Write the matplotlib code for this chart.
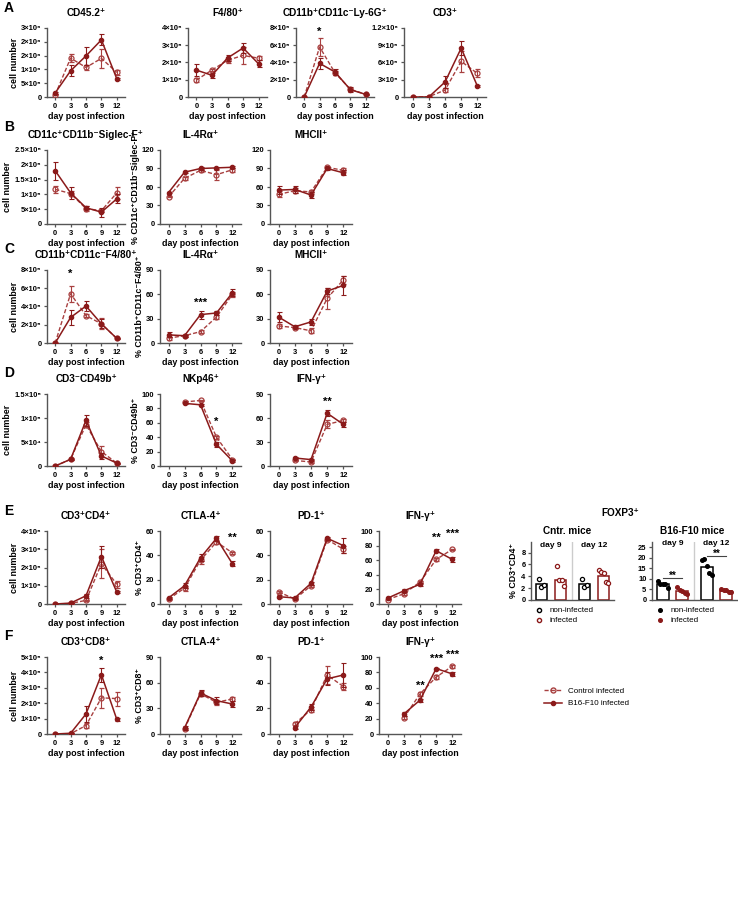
import matplotlib
matplotlib.use('Agg')
import matplotlib.pyplot as plt
from matplotlib.lines import Line2D

plt.rcParams['font.family'] = ['Liberation Sans', 'DejaVu Sans']

# ---------------- data ----------------
DAYS = [0, 3, 6, 9, 12]
DAYS_LATE = [3, 6, 9, 12]
DAY_TICKS = [0, 3, 6, 9, 12]

# Row A
A1_b16 = [0.15e6, 0.95e6, 1.49e6, 2.07e6, 0.66e6]; A1_b16_e = [0.03e6, 0.2e6, 0.33e6, 0.2e6, 0.04e6]
A1_ctl = [0.08e6, 1.41e6, 1.07e6, 1.40e6, 0.89e6]; A1_ctl_e = [0.02e6, 0.15e6, 0.08e6, 0.35e6, 0.1e6]
A2_b16 = [1.56e5, 1.26e5, 2.26e5, 2.84e5, 1.92e5]; A2_b16_e = [0.33e5, 0.15e5, 0.2e5, 0.3e5, 0.2e5]
A2_ctl = [0.98e5, 1.56e5, 2.13e5, 2.41e5, 2.25e5]; A2_ctl_e = [0.1e5, 0.05e5, 0.15e5, 0.5e5, 0.12e5]
A3_b16 = [0, 3.9e5, 2.9e5, 0.85e5, 0.3e5]; A3_b16_e = [0, 0.6e5, 0.3e5, 0.3e5, 0.1e5]
A3_ctl = [0, 5.8e5, 2.8e5, 0.9e5, 0.3e5]; A3_ctl_e = [0, 1.0e5, 0.2e5, 0.2e5, 0.1e5]
A4_b16 = [0, 0.01e5, 2.6e5, 8.5e5, 1.9e5]; A4_b16_e = [0, 0.01e5, 1.0e5, 1.2e5, 0.1e5]
A4_ctl = [0, 0.05e5, 1.2e5, 6.2e5, 4.1e5]; A4_ctl_e = [0, 0.01e5, 0.3e5, 1.8e5, 0.7e5]

# Row B
B1_b16 = [1.8e5, 1.05e5, 5.5e4, 4.0e4, 8.5e4]; B1_b16_e = [0.3e5, 0.2e5, 0.5e4, 1.5e4, 1.5e4]
B1_ctl = [1.17e5, 1.03e5, 5.2e4, 4.5e4, 1.05e5]; B1_ctl_e = [0.12e5, 0.1e5, 0.8e4, 0.5e4, 0.2e5]
B2_b16 = [51, 84, 90, 91, 92]; B2_b16_e = [1, 2, 2, 2, 2]
B2_ctl = [44, 74, 87, 80, 88]; B2_ctl_e = [1, 2, 2, 8, 3]
B3_b16 = [55, 56, 47, 90, 83]; B3_b16_e = [6, 6, 5, 2, 4]
B3_ctl = [48, 54, 52, 92, 87]; B3_ctl_e = [5, 4, 3, 2, 3]

# Row C
C1_b16 = [0, 2.8e5, 4.05e5, 2.1e5, 0.5e5]; C1_b16_e = [0, 0.8e5, 0.5e5, 0.5e5, 0.1e5]
C1_ctl = [0, 5.4e5, 3.0e5, 2.1e5, 0.5e5]; C1_ctl_e = [0, 0.9e5, 0.2e5, 0.6e5, 0.1e5]
C2_b16 = [10, 9, 35, 37, 62]; C2_b16_e = [3, 1, 5, 3, 4]
C2_ctl = [6, 9, 14, 32, 60]; C2_ctl_e = [2, 1, 2, 3, 3]
C3_b16 = [32, 20, 26, 64, 71]; C3_b16_e = [6, 2, 4, 4, 12]
C3_ctl = [21, 19, 15, 55, 78]; C3_ctl_e = [3, 2, 3, 13, 5]

# Row D
D1_b16 = [0, 1.4e4, 9.5e4, 2.1e4, 0.6e4]; D1_b16_e = [0, 0.1e4, 1.2e4, 0.6e4, 0.1e4]
D1_ctl = [0, 1.4e4, 8.6e4, 3.0e4, 0.6e4]; D1_ctl_e = [0, 0.2e4, 0.5e4, 1.1e4, 0.1e4]
D2_b16 = [87, 85, 30, 7]; D2_b16_e = [1, 1, 3, 1]
D2_ctl = [89, 91, 40, 9]; D2_ctl_e = [1, 1, 2, 1]
D3_b16 = [10, 8, 66, 52]; D3_b16_e = [1, 1, 4, 3]
D3_ctl = [7, 5, 52, 57]; D3_ctl_e = [1, 1, 5, 2]

# Row E
E1_b16 = [0, 0.05e5, 0.45e5, 2.6e5, 0.65e5]; E1_b16_e = [0, 0.02e5, 0.1e5, 0.6e5, 0.05e5]
E1_ctl = [0, 0.03e5, 0.2e5, 2.2e5, 1.08e5]; E1_ctl_e = [0, 0.02e5, 0.03e5, 0.8e5, 0.2e5]
E2_b16 = [5, 15, 38, 54, 33]; E2_b16_e = [1, 2, 3, 2, 2]
E2_ctl = [4, 13, 36, 51, 42]; E2_ctl_e = [1, 2, 3, 2, 1]
E3_b16 = [6, 5, 17, 54, 48]; E3_b16_e = [1, 1, 1, 1, 6]
E3_ctl = [10, 4, 15, 53, 45]; E3_ctl_e = [1, 1, 1, 1, 3]
E4_b16 = [8, 18, 27, 73, 61]; E4_b16_e = [1, 2, 2, 2, 3]
E4_ctl = [6, 14, 30, 61, 75]; E4_ctl_e = [1, 2, 2, 2, 1]

# Row F
F1_b16 = [0, 0.05e5, 1.3e5, 3.85e5, 0.95e5]; F1_b16_e = [0, 0.02e5, 0.5e5, 0.45e5, 0.1e5]
F1_ctl = [0, 0.02e5, 0.55e5, 2.35e5, 2.3e5]; F1_ctl_e = [0, 0.02e5, 0.15e5, 0.65e5, 0.45e5]
F2_b16 = [7, 48, 39, 35]; F2_b16_e = [2, 4, 4, 4]
F2_ctl = [6, 47, 37, 41]; F2_ctl_e = [1, 3, 3, 2]
F3_b16 = [5, 21, 43, 46]; F3_b16_e = [1, 2, 5, 9]
F3_ctl = [8, 19, 46, 37]; F3_ctl_e = [1, 2, 7, 3]
F4_b16 = [26, 44, 85, 78]; F4_b16_e = [2, 2, 1, 3]
F4_ctl = [21, 52, 74, 88]; F4_ctl_e = [2, 2, 2, 2]

# FOXP3 panel
FOX_groups = ['day 9', 'day 12']
FOX_cntr_bar_non = [2.7, 2.7]
FOX_cntr_bar_inf = [3.4, 4.0]
FOX_cntr_pts_non = [[3.5, 2.2, 2.5], [3.5, 2.2, 2.5]]
FOX_cntr_pts_inf = [[5.7, 3.4, 3.4, 2.4], [5.1, 4.8, 4.6, 3.1, 2.9]]
FOX_b16_bar_non = [7.7, 15.8]
FOX_b16_bar_inf = [4.3, 4.4]
FOX_b16_pts_non = [[9.2, 7.7, 7.7, 7.7, 5.5], [19.0, 19.3, 16.3, 12.8, 11.8]]
FOX_b16_pts_inf = [[6.3, 4.6, 4.5, 3.1, 3.0], [5.3, 4.6, 4.7, 3.6, 3.7]]

# ---------------- style ----------------
W, H = 738, 905
fig = plt.figure(figsize=(W / 100, H / 100), dpi=100)
RED = '#8b1a1a'
CTL = '#a84040'
SPINE = '#555555'
TICKFS = 5.4
LABFS = 6.4
TITLEFS = 7.2


def ax_px(l, t, r, b):
    return fig.add_axes([l / W, 1 - b / H, (r - l) / W, (b - t) / H])


def style(ax):
    for s in ['top', 'right']:
        ax.spines[s].set_visible(False)
    for s in ['left', 'bottom']:
        ax.spines[s].set_color(SPINE)
        ax.spines[s].set_linewidth(1.0)
    ax.tick_params(axis='both', length=2.5, width=0.9, color=SPINE, labelsize=TICKFS, pad=1.5)
    for lab in ax.get_xticklabels() + ax.get_yticklabels():
        lab.set_fontweight('bold')


def line_panel(box, days, b16, b16e, ctl, ctle, ylim, yticks, ylabels, title,
               ylabel=None, stars=None):
    ax = ax_px(*box)
    ax.errorbar(days, ctl, yerr=ctle, color=CTL, ls=(0, (3, 1.5)), lw=1.0,
                marker='o', ms=3.6, mfc='none', mec=CTL, mew=0.9,
                capsize=1.8, elinewidth=0.8, capthick=0.8, zorder=3)
    ax.errorbar(days, b16, yerr=b16e, color=RED, ls='-', lw=1.1,
                marker='o', ms=3.0, mfc=RED, mec=RED,
                capsize=1.8, elinewidth=0.8, capthick=0.8, zorder=4)
    ax.set_xlim(-1.6, 13.6)
    ax.set_xticks(DAY_TICKS)
    ax.set_ylim(*ylim)
    ax.set_yticks(yticks)
    ax.set_yticklabels(ylabels)
    ax.set_xlabel('day post infection', fontsize=LABFS, fontweight='bold', labelpad=1.5)
    if ylabel:
        ax.set_ylabel(ylabel, fontsize=LABFS, fontweight='bold', labelpad=1.5)
    ax.set_title(title, fontsize=TITLEFS, fontweight='bold', pad=9)
    if stars:
        for (sx, sy, s) in stars:
            ax.text(sx, sy, s, ha='center', va='center', fontsize=8, fontweight='bold')
    style(ax)
    return ax


CN = 'cell number'
COL1 = (47, 125)
COL2 = (160, 241)
COL3 = (270, 352)
COL4 = (379, 461)

# rows: (top, bottom)
RB = (150, 224)
RC = (270, 343)
RD = (394, 466)
RE = (531, 604)
RF = (657, 734)


def box(col, row):
    return (col[0], row[0], col[1], row[1])


# Row A
line_panel((47, 28, 125, 97), DAYS, A1_b16, A1_b16_e, A1_ctl, A1_ctl_e,
           (0, 2.5e6), [0, 0.5e6, 1e6, 1.5e6, 2e6, 2.5e6],
           ['0', '5×10⁵', '1×10⁶', '2×10⁶', '2×10⁶', '3×10⁶'],
           'CD45.2⁺', ylabel=CN)
line_panel((188, 28, 267, 97), DAYS, A2_b16, A2_b16_e, A2_ctl, A2_ctl_e,
           (0, 4e5), [0, 1e5, 2e5, 3e5, 4e5],
           ['0', '1×10⁵', '2×10⁵', '3×10⁵', '4×10⁵'], 'F4/80⁺')
line_panel((296, 28, 374, 97), DAYS, A3_b16, A3_b16_e, A3_ctl, A3_ctl_e,
           (0, 8e5), [0, 2e5, 4e5, 6e5, 8e5],
           ['0', '2×10⁵', '4×10⁵', '6×10⁵', '8×10⁵'], 'CD11b⁺CD11c⁻Ly-6G⁺',
           stars=[(3, 7.6e5, '*')])
line_panel((404, 28, 486, 97), DAYS, A4_b16, A4_b16_e, A4_ctl, A4_ctl_e,
           (0, 1.2e6), [0, 3e5, 6e5, 9e5, 1.2e6],
           ['0', '3×10⁵', '6×10⁵', '9×10⁵', '1.2×10⁶'], 'CD3⁺')

# Row B
line_panel(box(COL1, RB), DAYS, B1_b16, B1_b16_e, B1_ctl, B1_ctl_e,
           (0, 2.5e5), [0, 5e4, 1e5, 1.5e5, 2e5, 2.5e5],
           ['0', '5×10⁴', '1×10⁵', '1.5×10⁵', '2×10⁵', '2.5×10⁵'],
           'CD11c⁺CD11b⁻Siglec-F⁺', ylabel=CN)
line_panel(box(COL2, RB), DAYS, B2_b16, B2_b16_e, B2_ctl, B2_ctl_e,
           (0, 120), [0, 30, 60, 90, 120], ['0', '30', '60', '90', '120'],
           'IL-4Rα⁺', ylabel='% CD11c⁺CD11b⁻Siglec-F⁺')
line_panel(box(COL3, RB), DAYS, B3_b16, B3_b16_e, B3_ctl, B3_ctl_e,
           (0, 120), [0, 30, 60, 90, 120], ['0', '30', '60', '90', '120'],
           'MHCII⁺')

# Row C
line_panel(box(COL1, RC), DAYS, C1_b16, C1_b16_e, C1_ctl, C1_ctl_e,
           (0, 8e5), [0, 2e5, 4e5, 6e5, 8e5],
           ['0', '2×10⁵', '4×10⁵', '6×10⁵', '8×10⁵'],
           'CD11b⁺CD11c⁻F4/80⁺', ylabel=CN, stars=[(3, 7.6e5, '*')])
line_panel(box(COL2, RC), DAYS, C2_b16, C2_b16_e, C2_ctl, C2_ctl_e,
           (0, 90), [0, 30, 60, 90], ['0', '30', '60', '90'],
           'IL-4Rα⁺', ylabel='% CD11b⁺CD11c⁻F4/80⁺', stars=[(6, 49, '***')])
line_panel(box(COL3, RC), DAYS, C3_b16, C3_b16_e, C3_ctl, C3_ctl_e,
           (0, 90), [0, 30, 60, 90], ['0', '30', '60', '90'], 'MHCII⁺')

# Row D
line_panel(box(COL1, RD), DAYS, D1_b16, D1_b16_e, D1_ctl, D1_ctl_e,
           (0, 1.5e5), [0, 5e4, 1e5, 1.5e5],
           ['0', '5×10⁴', '1×10⁵', '1.5×10⁵'], 'CD3⁻CD49b⁺', ylabel=CN)
line_panel(box(COL2, RD), DAYS_LATE, D2_b16, D2_b16_e, D2_ctl, D2_ctl_e,
           (0, 100), [0, 20, 40, 60, 80, 100], ['0', '20', '40', '60', '80', '100'],
           'NKp46⁺', ylabel='% CD3⁻CD49b⁺', stars=[(9, 62, '*')])
line_panel(box(COL3, RD), DAYS_LATE, D3_b16, D3_b16_e, D3_ctl, D3_ctl_e,
           (0, 90), [0, 30, 60, 90], ['0', '30', '60', '90'],
           'IFN-γ⁺', stars=[(9, 80, '**')])

# Row E
line_panel(box(COL1, RE), DAYS, E1_b16, E1_b16_e, E1_ctl, E1_ctl_e,
           (0, 4e5), [0, 1e5, 2e5, 3e5, 4e5],
           ['0', '1×10⁵', '2×10⁵', '3×10⁵', '4×10⁵'], 'CD3⁺CD4⁺', ylabel=CN)
line_panel(box(COL2, RE), DAYS, E2_b16, E2_b16_e, E2_ctl, E2_ctl_e,
           (0, 60), [0, 20, 40, 60], ['0', '20', '40', '60'],
           'CTLA-4⁺', ylabel='% CD3⁺CD4⁺', stars=[(12, 54, '**')])
line_panel(box(COL3, RE), DAYS, E3_b16, E3_b16_e, E3_ctl, E3_ctl_e,
           (0, 60), [0, 20, 40, 60], ['0', '20', '40', '60'], 'PD-1⁺')
line_panel(box(COL4, RE), DAYS, E4_b16, E4_b16_e, E4_ctl, E4_ctl_e,
           (0, 100), [0, 20, 40, 60, 80, 100], ['0', '20', '40', '60', '80', '100'],
           'IFN-γ⁺', stars=[(9, 91, '**'), (12, 96, '***')])

# Row F
line_panel(box(COL1, RF), DAYS, F1_b16, F1_b16_e, F1_ctl, F1_ctl_e,
           (0, 5e5), [0, 1e5, 2e5, 3e5, 4e5, 5e5],
           ['0', '1×10⁵', '2×10⁵', '3×10⁵', '4×10⁵', '5×10⁵'],
           'CD3⁺CD8⁺', ylabel=CN, stars=[(9, 4.75e5, '*')])
line_panel(box(COL2, RF), DAYS_LATE, F2_b16, F2_b16_e, F2_ctl, F2_ctl_e,
           (0, 90), [0, 30, 60, 90], ['0', '30', '60', '90'],
           'CTLA-4⁺', ylabel='% CD3⁺CD8⁺')
line_panel(box(COL3, RF), DAYS_LATE, F3_b16, F3_b16_e, F3_ctl, F3_ctl_e,
           (0, 60), [0, 20, 40, 60], ['0', '20', '40', '60'], 'PD-1⁺')
line_panel(box(COL4, RF), DAYS_LATE, F4_b16, F4_b16_e, F4_ctl, F4_ctl_e,
           (0, 100), [0, 20, 40, 60, 80, 100], ['0', '20', '40', '60', '80', '100'],
           'IFN-γ⁺', stars=[(6, 62, '**'), (9, 98, '***'), (12, 103, '***')])

# legend for line panels
leg_handles = [
    Line2D([], [], color=CTL, ls=(0, (3, 1.5)), lw=1.0, marker='o', ms=3.6, mfc='none', mec=CTL),
    Line2D([], [], color=RED, ls='-', lw=1.1, marker='o', ms=3.0, mfc=RED, mec=RED),
]
fig.legend(leg_handles, ['Control infected', 'B16-F10 infected'],
           loc='upper left', bbox_to_anchor=(537 / W, 1 - 680 / H), frameon=False,
           fontsize=5.8, handlelength=2.2, labelspacing=0.6)

# panel letters
for letter, y in zip('ABCDEF', [8, 127, 249, 373, 511, 636]):
    fig.text(4 / W, 1 - y / H, letter, fontsize=10, fontweight='bold', ha='left', va='center')

# ---------------- FOXP3 panel ----------------
fig.text(620 / W, 1 - 513 / H, 'FOXP3⁺', fontsize=TITLEFS, fontweight='bold', ha='center', va='center')
fig.text(567 / W, 1 - 531 / H, 'Cntr. mice', fontsize=TITLEFS, fontweight='bold', ha='center', va='center')
fig.text(692 / W, 1 - 531 / H, 'B16-F10 mice', fontsize=TITLEFS, fontweight='bold', ha='center', va='center')

XPOS_NON = [0, 2.25]
XPOS_INF = [1, 3.25]
BARW = 0.62
SEP = 1.62


def fox_panel(bx, bar_non, bar_inf, pts_non, pts_inf, ylim, yticks, label_y, filled, ylabel=None):
    ax = ax_px(*bx)
    for i in range(2):
        ax.bar(XPOS_NON[i], bar_non[i], width=BARW, facecolor='white', edgecolor='black', lw=1.1, zorder=2)
        ax.bar(XPOS_INF[i], bar_inf[i], width=BARW, facecolor='white', edgecolor=RED, lw=1.1, zorder=2)
        for pts, xc, c in [(pts_non[i], XPOS_NON[i], 'black'), (pts_inf[i], XPOS_INF[i], RED)]:
            n = len(pts)
            offs = [(k - (n - 1) / 2) * 0.13 for k in range(n)]
            if filled:
                ax.plot([xc + o for o in offs], pts, 'o', ms=2.6, color=c, zorder=3)
            else:
                ax.plot([xc + o for o in offs], pts, 'o', ms=3.0, mfc='white', mec=c, mew=0.9, zorder=3)
        ax.text((XPOS_NON[i] + XPOS_INF[i]) / 2, label_y, FOX_groups[i],
                ha='center', va='center', fontsize=6.0, fontweight='bold')
    ax.axvline(SEP, color='#cccccc', lw=1.0, zorder=1)
    ax.set_xlim(-0.55, 3.8)
    ax.set_ylim(*ylim)
    ax.set_yticks(yticks)
    ax.set_xticks([])
    if ylabel:
        ax.set_ylabel(ylabel, fontsize=LABFS, fontweight='bold', labelpad=2)
    style(ax)
    return ax


ax_c = fox_panel((531, 542, 614, 600), FOX_cntr_bar_non, FOX_cntr_bar_inf,
                 FOX_cntr_pts_non, FOX_cntr_pts_inf, (0, 9.8), [0, 2, 4, 6, 8], 9.2, False,
                 ylabel='% CD3⁺CD4⁺')
ax_b = fox_panel((652, 542, 737, 600), FOX_b16_bar_non, FOX_b16_bar_inf,
                 FOX_b16_pts_non, FOX_b16_pts_inf, (0, 27.5), [0, 5, 10, 15, 20, 25], 26.6, True)
# significance
for (x0, x1, y) in [(XPOS_NON[0], XPOS_INF[0], 10.4), (XPOS_NON[1], XPOS_INF[1], 20.8)]:
    ax_b.plot([x0, x1], [y, y], color='#444444', lw=0.8)
    ax_b.text((x0 + x1) / 2, y + 1.1, '**', ha='center', va='center', fontsize=7, fontweight='bold')

h_open = [Line2D([], [], ls='none', marker='o', ms=3.0, mfc='white', mec='black'),
          Line2D([], [], ls='none', marker='o', ms=3.0, mfc='white', mec=RED)]
h_fill = [Line2D([], [], ls='none', marker='o', ms=2.6, color='black'),
          Line2D([], [], ls='none', marker='o', ms=2.6, color=RED)]
ax_c.legend(h_open, ['non-infected', 'infected'], loc='upper left', bbox_to_anchor=(-0.02, -0.02),
            frameon=False, fontsize=5.8, handlelength=1.0, labelspacing=0.3, borderpad=0.2)
ax_b.legend(h_fill, ['non-infected', 'infected'], loc='upper left', bbox_to_anchor=(-0.02, -0.02),
            frameon=False, fontsize=5.8, handlelength=1.0, labelspacing=0.3, borderpad=0.2)

fig.savefig('out.png', dpi=100)
